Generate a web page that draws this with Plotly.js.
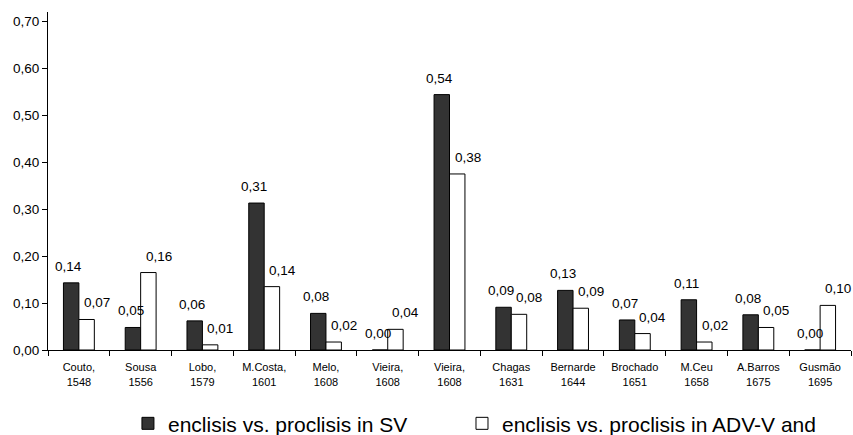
<!DOCTYPE html>
<html><head><meta charset="utf-8">
<script src="https://cdn.plot.ly/plotly-3.0.1.min.js"></script>
<style>body{margin:0;background:#fff}#c{width:853px;height:435px}</style>
</head><body><div id="c"></div>
<script>
const tickLabels = ["Couto,<br>1548","Sousa<br>1556","Lobo,<br>1579","M.Costa,<br>1601","Melo,<br>1608","Vieira,<br>1608","Vieira,<br>1608","Chagas<br>1631","Bernarde<br>1644","Brochado<br>1651","M.Ceu<br>1658","A.Barros<br>1675","Gusmão<br>1695"];
const positions = [0,1,2,3,4,5,6,7,8,9,10,11,12];
const svValues = [0.143,0.048,0.062,0.313,0.078,0.0,0.544,0.091,0.127,0.064,0.107,0.075,0.0];
const advValues = [0.065,0.165,0.011,0.135,0.017,0.044,0.375,0.076,0.089,0.035,0.017,0.048,0.095];
const svLabels = ["0,14","0,05","0,06","0,31","0,08","0,00","0,54","0,09","0,13","0,07","0,11","0,08","0,00"];
const advLabels = ["0,07","0,16","0,01","0,14","0,02","0,04","0,38","0,08","0,09","0,04","0,02","0,05","0,10"];
const seriesNames = ["enclisis vs. proclisis in SV","enclisis vs. proclisis in ADV-V and"];

const font = "Liberation Sans, Arial, sans-serif";
const traces = [
  {type:'bar', x:positions, y:svValues, name:seriesNames[0], legend:'legend',
   marker:{color:'#333333', line:{color:'#000', width:1}}},
  {type:'bar', x:positions, y:advValues, name:seriesNames[1], legend:'legend2',
   marker:{color:'#ffffff', line:{color:'#000', width:1}}}
];

// value labels anchored to the data points through the axes
const annotations = [];
positions.forEach((p, i) => {
  annotations.push({x:p, y:svValues[i], xref:'x', yref:'y', text:svLabels[i], showarrow:false,
    xanchor:'center', yanchor:'bottom', xshift:-10, yshift:7,
    font:{family:font, size:13.5, color:'#000'}});
  annotations.push({x:p, y:advValues[i], xref:'x', yref:'y', text:advLabels[i], showarrow:false,
    xanchor:'center', yanchor:'bottom', xshift:18, yshift:7,
    font:{family:font, size:13.5, color:'#000'}});
});

const legendBase = {orientation:'h', xref:'container', yref:'container', xanchor:'left',
  y:0.026, yanchor:'middle', font:{family:font,size:21,color:'#000'},
  itemwidth:30, borderwidth:0, bgcolor:'rgba(0,0,0,0)'};

const layout = {
  width:853, height:435,
  margin:{l:48, r:2, t:12, b:85},
  paper_bgcolor:'#fff', plot_bgcolor:'#fff',
  font:{family:font, color:'#000'},
  separators:',.',
  barmode:'group', bargap:0.5, bargroupgap:0,
  showlegend:true,
  annotations: annotations,
  legend: Object.assign({}, legendBase, {x:0.15}),
  legend2: Object.assign({}, legendBase, {x:0.5416}),
  xaxis:{range:[-0.5,12.5], tickvals:positions, ticktext:tickLabels, ticks:'',
         ticklabelstandoff:7,
         tickfont:{family:font,size:11,color:'#000'}, showline:true, linecolor:'#000', linewidth:1,
         showgrid:false, zeroline:false,
         minor:{tick0:-0.5, dtick:1, ticks:'outside', ticklen:5, tickcolor:'#000', showgrid:false}},
  yaxis:{range:[0,0.72], tickvals:[0,0.1,0.2,0.3,0.4,0.5,0.6,0.7], tickformat:'.2f',
         ticks:'outside', ticklen:5, tickcolor:'#000',
         tickfont:{family:font,size:13.5,color:'#000'}, showline:true, linecolor:'#000', linewidth:1,
         showgrid:false, zeroline:false}
};
Plotly.newPlot('c', traces, layout, {staticPlot:true});
</script></body></html>
